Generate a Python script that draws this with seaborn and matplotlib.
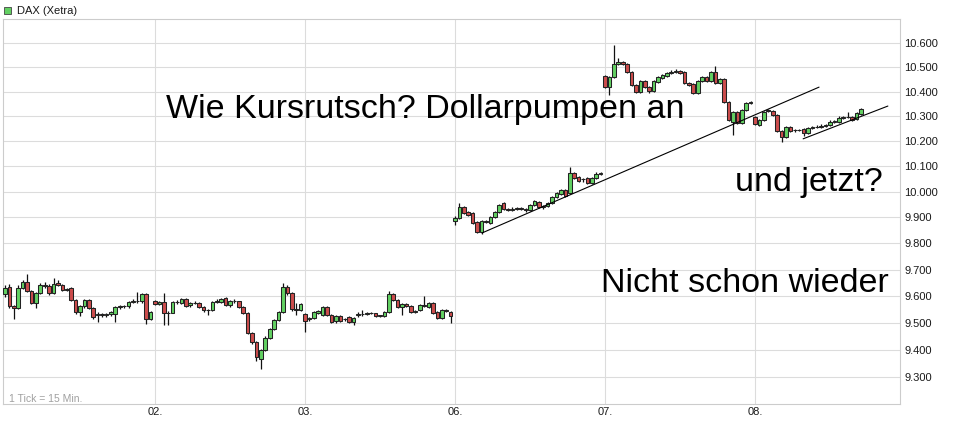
import matplotlib
matplotlib.use("Agg")
import matplotlib.pyplot as plt
import matplotlib.ticker as mticker
import seaborn as sns
import pandas as pd

# ----------------------------------------------------------
# Daten: 15-Min.-Kerzen DAX (Xetra), je Tag (open, high, low, close)
# ----------------------------------------------------------
day01 = [
    (9608, 9641, 9597, 9630), (9634, 9645, 9555, 9562), (9562, 9565, 9514, 9556),
    (9556, 9640, 9552, 9630), (9630, 9660, 9626, 9653), (9653, 9683, 9615, 9619),
    (9619, 9622, 9570, 9574), (9574, 9615, 9555, 9611), (9611, 9648, 9606, 9641),
    (9641, 9652, 9630, 9637), (9637, 9645, 9605, 9611), (9611, 9667, 9606, 9645),
    (9649, 9660, 9637, 9641), (9641, 9647, 9617, 9623), (9623, 9630, 9618, 9626),
    (9630, 9634, 9580, 9585), (9585, 9588, 9534, 9540), (9540, 9566, 9526, 9562),
    (9562, 9590, 9555, 9585), (9585, 9588, 9550, 9555), (9555, 9558, 9514, 9521),
    (9528, 9540, 9502, 9532), (9532, 9538, 9522, 9530), (9530, 9537, 9521, 9534),
    (9532, 9545, 9525, 9540), (9534, 9562, 9502, 9558), (9558, 9566, 9550, 9562),
    (9562, 9567, 9555, 9564), (9564, 9582, 9555, 9577), (9577, 9590, 9572, 9580),
    (9580, 9615, 9574, 9582), (9580, 9612, 9572, 9607), (9607, 9610, 9495, 9513),
    (9513, 9544, 9510, 9540),
]
day02 = [
    (9581, 9585, 9565, 9570), (9570, 9582, 9566, 9578), (9577, 9611, 9492, 9536),
    (9538, 9545, 9492, 9537), (9537, 9582, 9535, 9577), (9577, 9585, 9570, 9578),
    (9574, 9594, 9570, 9590), (9588, 9592, 9558, 9562), (9566, 9578, 9560, 9574),
    (9574, 9580, 9570, 9575), (9575, 9578, 9556, 9560), (9560, 9562, 9540, 9548),
    (9548, 9550, 9528, 9546), (9546, 9581, 9544, 9577), (9577, 9588, 9574, 9580),
    (9577, 9594, 9574, 9590), (9592, 9596, 9562, 9566), (9566, 9585, 9560, 9581),
    (9581, 9588, 9575, 9580), (9580, 9582, 9555, 9559), (9559, 9562, 9532, 9536),
    (9536, 9540, 9458, 9462), (9462, 9466, 9420, 9428), (9428, 9432, 9360, 9373),
    (9367, 9404, 9330, 9400), (9398, 9450, 9395, 9445), (9445, 9482, 9440, 9478),
    (9478, 9515, 9474, 9510), (9510, 9545, 9505, 9540), (9540, 9648, 9536, 9634),
    (9634, 9640, 9605, 9611), (9611, 9615, 9545, 9550), (9550, 9575, 9530, 9548),
    (9548, 9574, 9544, 9570),
]
day03 = [
    (9532, 9536, 9466, 9506), (9516, 9520, 9508, 9514), (9517, 9545, 9512, 9540),
    (9538, 9546, 9534, 9542), (9528, 9562, 9525, 9559), (9559, 9563, 9524, 9528),
    (9528, 9531, 9498, 9502), (9506, 9530, 9500, 9525), (9525, 9528, 9502, 9506),
    (9515, 9518, 9508, 9513), (9521, 9524, 9498, 9502), (9502, 9520, 9490, 9517),
    (9530, 9540, 9522, 9532), (9532, 9548, 9525, 9533), (9533, 9540, 9530, 9535),
    (9535, 9540, 9531, 9535), (9535, 9538, 9521, 9524), (9527, 9530, 9521, 9525),
    (9524, 9544, 9520, 9540), (9540, 9619, 9536, 9607), (9607, 9612, 9580, 9585),
    (9585, 9588, 9555, 9559), (9559, 9574, 9528, 9570), (9570, 9573, 9558, 9562),
    (9562, 9565, 9536, 9540), (9540, 9546, 9536, 9542), (9547, 9570, 9543, 9566),
    (9566, 9600, 9560, 9564), (9559, 9578, 9555, 9574), (9574, 9578, 9532, 9536),
    (9540, 9543, 9513, 9517), (9517, 9551, 9514, 9547), (9547, 9551, 9540, 9543),
    (9540, 9543, 9498, 9524),
]
day06 = [
    (9887, 9905, 9870, 9898), (9898, 9957, 9894, 9941), (9941, 9945, 9914, 9918),
    (9922, 9926, 9906, 9910), (9918, 9922, 9875, 9879), (9883, 9886, 9840, 9844),
    (9844, 9891, 9838, 9887), (9883, 9891, 9879, 9887), (9879, 9906, 9875, 9902),
    (9902, 9926, 9898, 9922), (9922, 9953, 9918, 9949), (9957, 9961, 9930, 9934),
    (9934, 9937, 9926, 9930), (9930, 9941, 9926, 9934), (9934, 9940, 9930, 9935),
    (9935, 9939, 9930, 9934), (9934, 9936, 9922, 9930), (9930, 9953, 9926, 9949),
    (9949, 9969, 9945, 9965), (9961, 9965, 9937, 9941), (9941, 9949, 9934, 9945),
    (9945, 9961, 9941, 9957), (9957, 9984, 9953, 9980), (9980, 10000, 9976, 9996),
    (9992, 10011, 9988, 10007), (10007, 10011, 9980, 9984), (9996, 10097, 9992, 10074),
    (10074, 10078, 10050, 10054), (10058, 10062, 10039, 10043), (10050, 10056, 10040, 10052),
    (10054, 10058, 10031, 10035), (10035, 10058, 10031, 10054), (10054, 10078, 10050, 10070),
    (10070, 10080, 10066, 10074),
]
day07 = [
    (10465, 10470, 10415, 10420), (10420, 10465, 10388, 10461), (10461, 10593, 10457, 10515),
    (10515, 10540, 10511, 10523), (10523, 10527, 10511, 10515), (10515, 10519, 10478, 10482),
    (10482, 10486, 10424, 10428), (10428, 10432, 10396, 10400), (10400, 10448, 10396, 10444),
    (10444, 10448, 10416, 10420), (10420, 10424, 10396, 10404), (10404, 10448, 10400, 10444),
    (10440, 10465, 10436, 10461), (10457, 10473, 10453, 10469), (10465, 10482, 10461, 10478),
    (10478, 10490, 10474, 10482), (10482, 10492, 10478, 10486), (10486, 10490, 10474, 10478),
    (10482, 10486, 10432, 10436), (10436, 10440, 10424, 10428), (10432, 10436, 10392, 10396),
    (10396, 10448, 10392, 10444), (10444, 10465, 10440, 10461), (10461, 10465, 10440, 10444),
    (10444, 10486, 10440, 10482), (10482, 10506, 10432, 10436), (10436, 10456, 10432, 10452),
    (10452, 10456, 10355, 10359), (10359, 10363, 10282, 10286), (10278, 10322, 10226, 10318),
    (10318, 10322, 10270, 10274), (10274, 10330, 10270, 10326), (10326, 10359, 10322, 10355),
    (10355, 10363, 10350, 10359),
]
day08 = [
    (10298, 10302, 10266, 10270), (10266, 10290, 10262, 10286), (10286, 10322, 10282, 10318),
    (10322, 10330, 10318, 10326), (10322, 10326, 10302, 10306), (10306, 10310, 10238, 10242),
    (10242, 10246, 10198, 10218), (10218, 10262, 10214, 10258), (10258, 10262, 10238, 10242),
    (10246, 10250, 10238, 10244), (10244, 10250, 10240, 10246), (10250, 10254, 10222, 10234),
    (10234, 10258, 10230, 10254), (10254, 10262, 10250, 10256), (10256, 10266, 10252, 10258),
    (10258, 10268, 10254, 10262), (10262, 10270, 10258, 10264), (10266, 10286, 10262, 10278),
    (10278, 10286, 10274, 10280), (10278, 10300, 10274, 10294), (10294, 10302, 10290, 10296),
    (10296, 10318, 10292, 10298), (10298, 10302, 10282, 10286), (10290, 10318, 10286, 10314),
    (10310, 10334, 10306, 10330),
]

days = [day01, day02, day03, day06, day07, day08]
day_labels = ["01.", "02.", "03.", "06.", "07.", "08."]
ticks_per_day = 34

# Trendlinien (Zeitposition in Ticks, Kursniveau)
trend1_tick = [108.1, 184.5]
trend1_level = [9840, 10419]
trend2_tick = [180.9, 200.1]
trend2_level = [10210, 10342]

y_ticks = [9300, 9400, 9500, 9600, 9700, 9800, 9900, 10000,
           10100, 10200, 10300, 10400, 10500, 10600]

# ----------------------------------------------------------
# Tabelle aufbauen
# ----------------------------------------------------------
rows = []
for d, candles in enumerate(days):
    for i, (o, h, l, c) in enumerate(candles):
        rows.append({"tick": d * ticks_per_day + i, "open": o, "high": h,
                     "low": l, "close": c})
df = pd.DataFrame(rows)
df["bottom"] = df[["open", "close"]].min(axis=1)
df["body"] = (df["close"] - df["open"]).abs()
df["color"] = ["#62d062" if c >= o else "#cc4c4c" for o, c in zip(df["open"], df["close"])]

# ----------------------------------------------------------
# Plot
# ----------------------------------------------------------
sns.set_style("white")
plt.rcParams["font.family"] = ["Liberation Sans", "DejaVu Sans"]

fig = plt.figure(figsize=(9.54, 4.25), dpi=100)
ax = fig.add_axes([3 / 954, 21 / 425, 897 / 954, 385 / 425])

ax.vlines(df["tick"], df["low"], df["high"], color="#111111", lw=0.9, zorder=2)
ax.bar(df["tick"], df["body"], bottom=df["bottom"], width=0.82,
       color=df["color"], edgecolor="#222222", linewidth=0.75, zorder=3)

sns.lineplot(x=trend1_tick, y=trend1_level, ax=ax, color="black", lw=0.8, zorder=4)
sns.lineplot(x=trend2_tick, y=trend2_level, ax=ax, color="black", lw=0.8, zorder=4)

ax.set_yscale("log")
ax.set_ylim(9202, 10701)
ax.set_xlim(-0.45, 202.85)
ax.yaxis.set_major_locator(mticker.FixedLocator(y_ticks))
ax.yaxis.set_minor_locator(mticker.NullLocator())
ax.yaxis.set_major_formatter(mticker.FuncFormatter(lambda v, p: f"{v:,.0f}".replace(",", ".")))
ax.yaxis.tick_right()

day_ticks = [d * ticks_per_day for d in range(1, len(days))]
ax.set_xticks(day_ticks)
ax.set_xticklabels(day_labels[1:])
ax.tick_params(axis="both", length=0, labelsize=8, colors="#1a1a1a")
ax.tick_params(axis="y", pad=3)
ax.tick_params(axis="x", pad=2.5)

ax.grid(True, color="#dcdcdc", lw=0.8)
ax.set_axisbelow(True)
for s in ax.spines.values():
    s.set_color("#cccccc")
    s.set_linewidth(0.8)
ax.set_xlabel("")
ax.set_ylabel("")

# Legende oben links
fig.patches.append(plt.Rectangle((4 / 954, 1 - 14 / 425), 7 / 954, 7 / 425,
                                 transform=fig.transFigure, facecolor="#62d062",
                                 edgecolor="#444444", lw=0.6))
fig.text(17 / 954, 1 - 14 / 425, "DAX (Xetra)", fontsize=8, color="#1a1a1a", va="baseline")
fig.text(9 / 954, 1 - 402 / 425, "1 Tick = 15 Min.", fontsize=7.5, color="#a0a0a0", va="baseline")

# Kommentare
fig.text(166 / 954, 1 - 118 / 425, "Wie Kursrutsch? Dollarpumpen an", fontsize=24.5,
         color="black", va="baseline")
fig.text(735 / 954, 1 - 191 / 425, "und jetzt?", fontsize=24.5, color="black", va="baseline")
fig.text(601 / 954, 1 - 292 / 425, "Nicht schon wieder", fontsize=24.5, color="black",
         va="baseline")

plt.savefig("out.png", dpi=100)
plt.close()
